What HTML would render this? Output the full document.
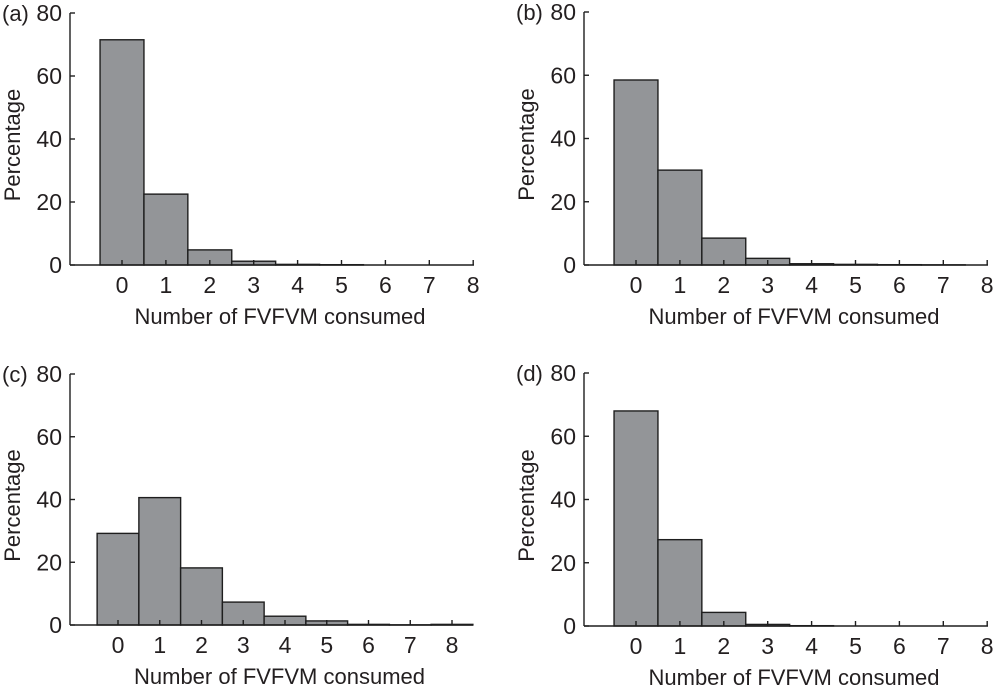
<!DOCTYPE html>
<html><head><meta charset="utf-8"><style>
html,body{margin:0;padding:0;background:#fff;}
svg{display:block;font-family:"Liberation Sans",Arial,sans-serif;}
</style></head><body>
<svg id="fig" width="994" height="697" viewBox="0 0 994 697" xmlns="http://www.w3.org/2000/svg"></svg>
<script>
const categories = [0,1,2,3,4,5,6,7,8];
const yTicks = [0,20,40,60,80];
const seriesA = [71.5,22.5,4.8,1.2,0.2,0.1,0,0,0];
const seriesB = [58.5,30.0,8.5,2.1,0.4,0.2,0.1,0.05,0];
const seriesC = [29.2,40.6,18.2,7.3,2.8,1.3,0.2,0.05,0.2];
const seriesD = [68.0,27.3,4.3,0.5,0.1,0,0,0,0];
const panelLabels = ["(a)","(b)","(c)","(d)"];

const NS="http://www.w3.org/2000/svg";
const svg=document.getElementById('fig');
function mk(tag,attrs,parent){const e=document.createElementNS(NS,tag);for(const k in attrs)e.setAttribute(k,attrs[k]);(parent||svg).appendChild(e);return e;}

const layouts=[
 {ax:70,y0:265,y80:13,x0:122,dx:43.9,xend:474,label:panelLabels[0],data:seriesA,id:'a'},
 {ax:584,y0:265,y80:12,x0:636,dx:43.9,xend:988,label:panelLabels[1],data:seriesB,id:'b'},
 {ax:70,y0:625,y80:374,x0:118,dx:41.75,xend:473,label:panelLabels[2],data:seriesC,id:'c'},
 {ax:584,y0:626,y80:373,x0:636,dx:43.9,xend:988,label:panelLabels[3],data:seriesD,id:'d'}
];

layouts.forEach(L=>{
  const g=mk('g',{});
  
  
  const ys=v=>L.y0+(L.y80-L.y0)*v/80;
  const xs=c=>L.x0+L.dx*c;
  L.data.forEach((v,i)=>{
    if(v<=0)return;
    const r=mk('rect',{x:xs(categories[i])-L.dx/2,y:ys(v),width:L.dx,height:L.y0-ys(v),fill:'#939598',stroke:'#1e1e1e','stroke-width':1.4},g);
    
    
  });
  const ya=mk('line',{x1:L.ax,y1:L.y0,x2:L.ax,y2:L.y80,stroke:'#1e1e1e','stroke-width':1.4},g);
  
  
  const xa=mk('line',{x1:L.ax,y1:L.y0,x2:L.xend,y2:L.y0,stroke:'#1e1e1e','stroke-width':1.4},g);
  
  
  yTicks.forEach(t=>{
    mk('line',{x1:L.ax,y1:ys(t),x2:L.ax+5,y2:ys(t),stroke:'#1e1e1e','stroke-width':1.4},g);
    const tx=mk('text',{x:L.ax-8,y:ys(t)+8,'text-anchor':'end','font-size':23,fill:'#231f20'},g);
    tx.textContent=t;
    
    
  });
  categories.forEach(c=>{
    mk('line',{x1:xs(c),y1:L.y0,x2:xs(c),y2:L.y0-5,stroke:'#1e1e1e','stroke-width':1.4},g);
    const tx=mk('text',{x:xs(c),y:L.y0+28,'text-anchor':'middle','font-size':23,fill:'#231f20'},g);
    tx.textContent=c;
    
    
  });
  const xt=mk('text',{x:(L.ax+L.xend)/2+8,y:L.y0+59,'text-anchor':'middle','font-size':22,fill:'#231f20'},g);
  xt.textContent='Number of FVFVM consumed';
  
  
  const ycx=L.ax-50, ycy=(L.y0+L.y80)/2+6;
  const yt=mk('text',{x:ycx,y:ycy,'text-anchor':'middle','font-size':22,fill:'#231f20',transform:'rotate(-90 '+ycx+' '+ycy+')'},g);
  yt.textContent='Percentage';
  
  
  const pl=mk('text',{x:L.ax-68,y:L.y80+8,'font-size':22,fill:'#231f20'},g);
  pl.textContent=L.label;
  
  
});
</script>
</body></html>
